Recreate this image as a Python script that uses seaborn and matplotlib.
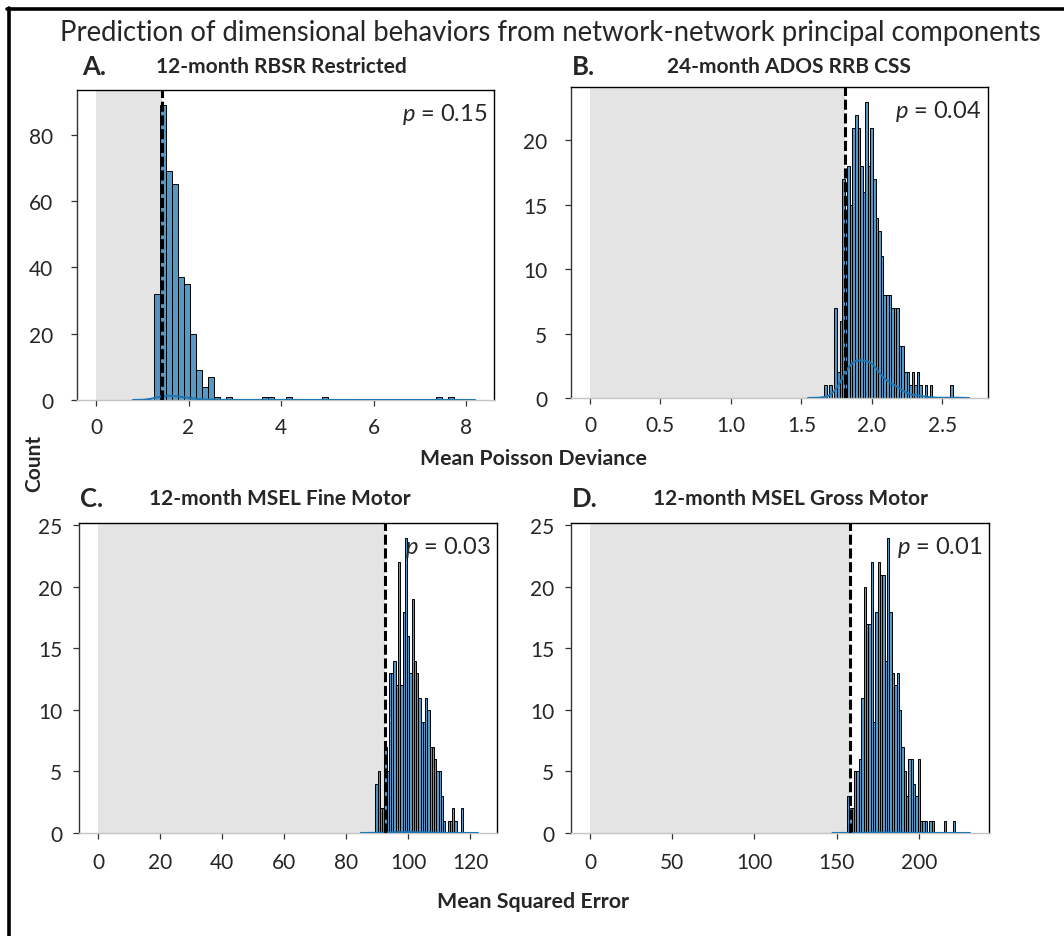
import numpy as np
import pandas as pd
import matplotlib
matplotlib.use("Agg")
import matplotlib.pyplot as plt
import seaborn as sns
from matplotlib.lines import Line2D

# ---------------- data ----------------
titles = ["12-month RBSR Restricted", "24-month ADOS RRB CSS",
          "12-month MSEL Fine Motor", "12-month MSEL Gross Motor"]
letters = ["A.", "B.", "C.", "D."]
p_values = ["0.15", "0.04", "0.03", "0.01"]
observed = [1.43, 1.807, 92.5, 158.3]

x_ticks = [[0, 2, 4, 6, 8],
           [0, 0.5, 1.0, 1.5, 2.0, 2.5],
           [0, 20, 40, 60, 80, 100, 120],
           [0, 50, 100, 150, 200]]
x_ticklabels = [["0", "2", "4", "6", "8"],
                ["0", "0.5", "1.0", "1.5", "2.0", "2.5"],
                ["0", "20", "40", "60", "80", "100", "120"],
                ["0", "50", "100", "150", "200"]]

# panel A: 50 bins
a_start, a_width = 1.254, 0.1296
a_counts = [32, 89, 69, 65, 37, 35, 20, 9, 4, 7,
            1, 0, 1, 0, 0, 0, 0, 0, 1, 1,
            0, 0, 1, 0, 0, 0, 0, 0, 1, 0,
            0, 0, 0, 0, 0, 0, 0, 0, 0, 0,
            0, 0, 0, 0, 0, 0, 0, 1, 0, 1]
# panel B: 50 bins
b_start, b_width = 1.662, 0.01826
b_counts = [1, 0, 1, 0, 7, 2, 6, 17, 14, 18,
            15, 21, 22, 21, 18, 16, 23, 18, 21, 17,
            14, 13, 11, 8, 8, 8, 7, 7, 7, 4,
            4, 2, 2, 1, 2, 1, 2, 1, 0, 1,
            0, 1, 0, 0, 0, 0, 0, 0, 0, 1]
# panel C: 39 bins
c_start, c_width = 89.5, 0.728
c_counts = [4, 5, 2, 2, 7, 5, 13, 13, 14, 12,
            22, 12, 18, 24, 16, 13, 19, 14, 13, 11,
            9, 9, 11, 10, 7, 7, 6, 5, 5, 3,
            1, 0, 1, 1, 2, 1, 0, 0, 2]
# panel D: 46 bins
d_start, d_width = 156.3, 1.432
d_counts = [3, 2, 2, 5, 5, 6, 11, 20, 17, 17,
            22, 9, 18, 22, 21, 21, 14, 24, 18, 13,
            12, 13, 10, 7, 5, 3, 6, 6, 4, 3,
            6, 1, 1, 1, 0, 1, 1, 0, 0, 0,
            0, 1, 0, 0, 0, 1]

panels = [(a_start, a_width, a_counts), (b_start, b_width, b_counts),
          (c_start, c_width, c_counts), (d_start, d_width, d_counts)]

# ---------------- style ----------------
sns.set_style("white")
FONT = "Lato"
plt.rcParams["font.family"] = [FONT, "DejaVu Sans"]
plt.rcParams["mathtext.fontset"] = "custom"
plt.rcParams["mathtext.it"] = FONT + ":italic"
plt.rcParams["mathtext.rm"] = FONT

fig = plt.figure(figsize=(10.64, 9.37), dpi=100)
W, H = 1064, 937

# axes boxes in pixels: left, top, right, bottom
boxes = [(77, 91, 494, 401), (571, 88, 988, 399),
         (79, 524, 497, 834), (571, 524, 989, 834)]
ypads = [13, 13, 8, 8]
xpads = [8, 8, 10, 10]
title_x = [0.489, 0.523, 0.48, 0.524]

for i, ((l, t, r, b), (start, width, counts)) in enumerate(zip(boxes, panels)):
    ax = fig.add_axes([l / W, 1 - b / H, (r - l) / W, (b - t) / H])
    n = len(counts)
    centers = start + width * (np.arange(n) + 0.5)
    # one row per permutation value, expanded from the histogram counts
    df = pd.DataFrame({"value": np.repeat(centers, counts)})

    ax.axvspan(0, observed[i], color="#e4e4e4", zorder=0, lw=0)
    sns.histplot(data=df, x="value", binwidth=width,
                 binrange=(start, start + width * n), ax=ax,
                 color="#1f77b4", alpha=0.75, edgecolor="black",
                 linewidth=0.7, zorder=2)
    sns.kdeplot(data=df, x="value", ax=ax,
                color="#1f77b4", linewidth=1.5, zorder=3)
    ax.axvline(observed[i], color="black", linestyle=(0, (3.3, 1.2)),
               linewidth=2.2, zorder=4)

    ax.set_xticks(x_ticks[i])
    ax.set_xticklabels(x_ticklabels[i])
    ax.set_xlabel("")
    ax.set_ylabel("")
    for s in ["top", "right"]:
        ax.spines[s].set_color("black")
        ax.spines[s].set_linewidth(1.0)
    ax.spines["left"].set_color("#333333")
    ax.spines["left"].set_linewidth(1.0)
    ax.spines["bottom"].set_color("#c4c4c4")
    ax.spines["bottom"].set_linewidth(1.0)
    ax.tick_params(axis="both", which="major", direction="out", length=4,
                   width=0.9, color="#333333", labelsize=15,
                   bottom=True, left=True)
    ax.tick_params(axis="y", pad=ypads[i])
    ax.tick_params(axis="x", pad=xpads[i])

    ax.text(0.985, 0.965, r"$p$ = " + p_values[i], transform=ax.transAxes,
            ha="right", va="top", fontsize=17, zorder=6)
    ty = 1.077 if i == 0 else 1.068
    if i >= 2:
        ty = 1.08
    ax.text(title_x[i], ty, titles[i], transform=ax.transAxes,
            ha="center", va="center", fontsize=15, fontweight="bold")
    ax.text(0.012 if i == 0 else 0.003, ty, letters[i], transform=ax.transAxes,
            ha="left", va="center", fontsize=18.5, fontweight="bold")

fig.text(550 / W, 1 - 33 / H,
         "Prediction of dimensional behaviors from network-network principal components",
         ha="center", va="center", fontsize=19.8)
fig.text(533 / W, 1 - 459 / H, "Mean Poisson Deviance", ha="center",
         va="center", fontsize=15.3, fontweight="bold")
fig.text(533 / W, 1 - 902 / H, "Mean Squared Error", ha="center",
         va="center", fontsize=15.4, fontweight="bold")
fig.text(34 / W, 1 - 463 / H, "Count", ha="center", va="center",
         rotation=90, fontsize=15, fontweight="bold")

# outer frame (top and left edges visible in the reference)
fig.add_artist(Line2D([7 / W, 1.0], [1 - 10 / H, 1 - 10 / H],
                      transform=fig.transFigure, color="black", lw=2.6))
fig.add_artist(Line2D([8.5 / W, 8.5 / W], [0.0, 1 - 9 / H],
                      transform=fig.transFigure, color="black", lw=2.6))

fig.savefig("out.png", dpi=100)
